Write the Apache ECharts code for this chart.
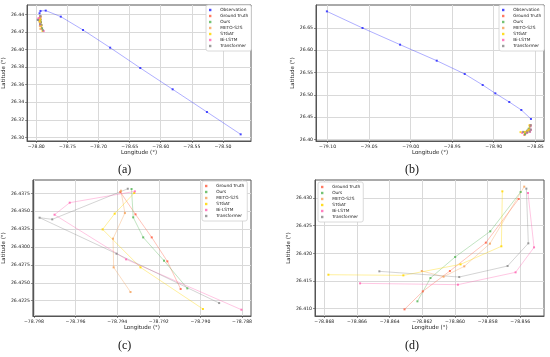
<!DOCTYPE html>
<html><head><meta charset="utf-8">
<script src="https://cdn.jsdelivr.net/npm/echarts@6/dist/echarts.min.js"></script>
<style>html,body{margin:0;padding:0;background:#fff}#c{width:550px;height:357px}</style>
</head><body><div id="c"></div>
<script>
// ---------- data ----------
const seriesNames = ['Observation','Ground Truth','Ours','METO-S2S','STGAT','Bi-LSTM','Transformer'];
const predNames = ['Ground Truth','Ours','METO-S2S','STGAT','Bi-LSTM','Transformer'];

// Case 1 (panels a, c)
const observation1 = [[-78.4716,26.3034],[-78.5258,26.3289],[-78.5809,26.3548],[-78.6329,26.3791],[-78.6813,26.4023],[-78.7249,26.4225],[-78.7606,26.4377],[-78.7848,26.4446],[-78.7932,26.4442],[-78.7947,26.4415]];
const groundTruth1 = [[-78.79385,26.43769],[-78.79312,26.43457],[-78.79234,26.43135],[-78.79159,26.42800],[-78.79095,26.42413]];
const ours1 = [[-78.79331,26.43811],[-78.79323,26.43415],[-78.79275,26.43135],[-78.79175,26.42809],[-78.79063,26.42422]];
const metoS2S1 = [[-78.79382,26.43787],[-78.79363,26.43475],[-78.79420,26.43117],[-78.79417,26.42716],[-78.79336,26.42371]];
const stgat1 = [[-78.79318,26.43755],[-78.79412,26.43466],[-78.79470,26.43247],[-78.79288,26.42716],[-78.78988,26.42134]];
const biLstm1 = [[-78.79315,26.43778],[-78.79628,26.43620],[-78.79701,26.43452],[-78.79357,26.42828],[-78.78803,26.42124]];
const transformer1 = [[-78.79349,26.43815],[-78.79712,26.43387],[-78.79773,26.43410],[-78.79403,26.42907],[-78.78910,26.42217]];

// Case 2 (panels b, d)
const observation2 = [[-79.1008,26.6874],[-79.0579,26.6500],[-79.0127,26.6126],[-78.9686,26.5766],[-78.9349,26.5467],[-78.9133,26.5220],[-78.8981,26.5033],[-78.8813,26.4838],[-78.8668,26.4659],[-78.8552,26.4457]];
const groundTruth2 = [[-78.85610,26.42982],[-78.85811,26.42193],[-78.86031,26.41681],[-78.86197,26.41313],[-78.86309,26.40988]];
const ours2 = [[-78.85598,26.43108],[-78.85784,26.42398],[-78.85999,26.41934],[-78.86150,26.41554],[-78.86230,26.41133]];
const metoS2S2 = [[-78.85576,26.43205],[-78.85786,26.42175],[-78.85943,26.41765],[-78.86070,26.41578],[-78.86203,26.41681]];
const stgat2 = [[-78.85710,26.43120],[-78.85716,26.42127],[-78.85966,26.41801],[-78.86316,26.41602],[-78.86775,26.41614]];
const biLstm2 = [[-78.85553,26.43090],[-78.85516,26.42108],[-78.85629,26.41657],[-78.85982,26.41434],[-78.86581,26.41458]];
const transformer2 = [[-78.85563,26.43169],[-78.85551,26.42181],[-78.85678,26.41771],[-78.85974,26.41572],[-78.86463,26.41675]];

// tick values
const xTicksA = [-78.80,-78.75,-78.70,-78.65,-78.60,-78.55,-78.50];
const yTicksA = [26.30,26.32,26.34,26.36,26.38,26.40,26.42,26.44];
const xTicksB = [-79.10,-79.05,-79.00,-78.95,-78.90,-78.85];
const yTicksB = [26.40,26.45,26.50,26.55,26.60,26.65];
const xTicksC = [-78.798,-78.796,-78.794,-78.792,-78.790,-78.788];
const yTicksC = [26.4225,26.4250,26.4275,26.4300,26.4325,26.4350,26.4375];
const xTicksD = [-78.868,-78.866,-78.864,-78.862,-78.860,-78.858,-78.856];
const yTicksD = [26.410,26.415,26.420,26.425,26.430];

const captions = ['(a)','(b)','(c)','(d)'];

// ---------- styling ----------
const colors = {
  'Observation':'#2b2bff','Ground Truth':'#ff6347','Ours':'#5cb85c',
  'METO-S2S':'#f4a460','STGAT':'#ffd700','Bi-LSTM':'#ff69b4','Transformer':'#8c8c8c'
};
const FONT = 'DejaVu Sans';
const fmt = (d) => (v) => v.toFixed(d).replace('-', '\u2212');

const grids = [
  {left:23, top:5, width:228, height:136},
  {left:316, top:5, width:228, height:136},
  {left:32, top:180, width:219, height:136},
  {left:315, top:180, width:229, height:136}
];
const ranges = [
  {x:[-78.8148,-78.455], y:[26.2958,26.451], xt:xTicksA, yt:yTicksA, xd:2, yd:2, yGap:14},
  {x:[-79.1139,-78.8395], y:[26.3962,26.7017], xt:xTicksB, yt:yTicksB, xd:2, yd:2, yGap:16},
  {x:[-78.79805,-78.78757], y:[26.42036,26.43937], xt:xTicksC, yt:yTicksC, xd:3, yd:4, yGap:25},
  {x:[-78.86857,-78.85455], y:[26.40868,26.43325], xt:xTicksD, yt:yTicksD, xd:3, yd:3, yGap:16}
];

const xAxes = ranges.map((r,i)=>({
  type:'value', gridIndex:i, min:r.x[0], max:r.x[1], position:'bottom',
  name:'Longitude (°)', nameLocation:'middle', nameGap:7,
  nameTextStyle:{fontFamily:FONT, fontSize:5.5, color:'#222'},
  axisLine:{show:true, onZero:false, lineStyle:{color:'#555', width:1}},
  axisTick:{show:true, length:2, customValues:r.xt, lineStyle:{color:'#444', width:0.6}},
  axisLabel:{customValues:r.xt, formatter:fmt(r.xd), fontFamily:FONT, fontSize:4.6, color:'#222', margin:3},
  splitLine:{show:true, lineStyle:{color:'#d9d9d9', width:1}}
}));
const yAxes = ranges.map((r,i)=>({
  type:'value', gridIndex:i, min:r.y[0], max:r.y[1],
  name:'Latitude (°)', nameLocation:'middle', nameGap:r.yGap, nameRotate:90,
  nameTextStyle:{fontFamily:FONT, fontSize:5.5, color:'#222'},
  axisLine:{show:true, onZero:false, lineStyle:{color:'#555', width:1}},
  axisTick:{show:true, length:2, customValues:r.yt, lineStyle:{color:'#444', width:0.6}},
  axisLabel:{customValues:r.yt, formatter:fmt(r.yd), fontFamily:FONT, fontSize:4.6, color:'#222', margin:3},
  splitLine:{show:true, lineStyle:{color:'#d9d9d9', width:1}}
}));

function mk(name, data, idx){
  const c = colors[name];
  return {
    type:'line', name, data, xAxisIndex:idx, yAxisIndex:idx,
    symbol:'rect', symbolSize:2, showSymbol:true,
    itemStyle:{color:c, opacity:0.85},
    lineStyle:{color:c, width:0.9, opacity:0.42},
    animation:false, z: name==='Observation'?3:2
  };
}
const set1 = {'Ground Truth':groundTruth1,'Ours':ours1,'METO-S2S':metoS2S1,'STGAT':stgat1,'Bi-LSTM':biLstm1,'Transformer':transformer1};
const set2 = {'Ground Truth':groundTruth2,'Ours':ours2,'METO-S2S':metoS2S2,'STGAT':stgat2,'Bi-LSTM':biLstm2,'Transformer':transformer2};

const series = [];
series.push(mk('Observation', observation1, 0));
predNames.forEach(n=>series.push(mk(n, set1[n], 0)));
series.push(mk('Observation', observation2, 1));
predNames.forEach(n=>series.push(mk(n, set2[n], 1)));
predNames.forEach(n=>series.push(mk(n, set1[n], 2)));
predNames.forEach(n=>series.push(mk(n, set2[n], 3)));

const legBase = {
  orient:'vertical', icon:'path://M0,0h1v1h-1z', itemWidth:10, itemHeight:2.4, itemGap:0,
  padding:[2,3,2,3], borderColor:'#d0d0d0', borderWidth:0.8, borderRadius:2, backgroundColor:'#fff',
  textStyle:{fontFamily:FONT, fontSize:4.3, color:'#222', lineHeight:6},
  selectedMode:false
};
const legends = [
  Object.assign({}, legBase, {data:seriesNames, left:206, top:5}),
  Object.assign({}, legBase, {data:seriesNames, left:499, top:5}),
  Object.assign({}, legBase, {data:predNames, left:202, top:181}),
  Object.assign({}, legBase, {data:predNames, left:318, top:182})
];

const capPos = [[125,171],[412,171],[125,347],[412,347]];
const graphics = captions.map((t,i)=>({
  type:'text', left:capPos[i][0]-7, top:capPos[i][1]-7,
  style:{text:t, font:'12px "Liberation Serif"', fill:'#111'}
}));

const chart = echarts.init(document.getElementById('c'), null, {renderer:'canvas'});
chart.setOption({
  animation:false, backgroundColor:'#fff',
  grid: grids.map(g=>Object.assign({show:true, borderColor:'#555', borderWidth:1, backgroundColor:'#fff'}, g)),
  xAxis:xAxes, yAxis:yAxes, legend:legends, series, graphic:graphics
});
</script></body></html>
